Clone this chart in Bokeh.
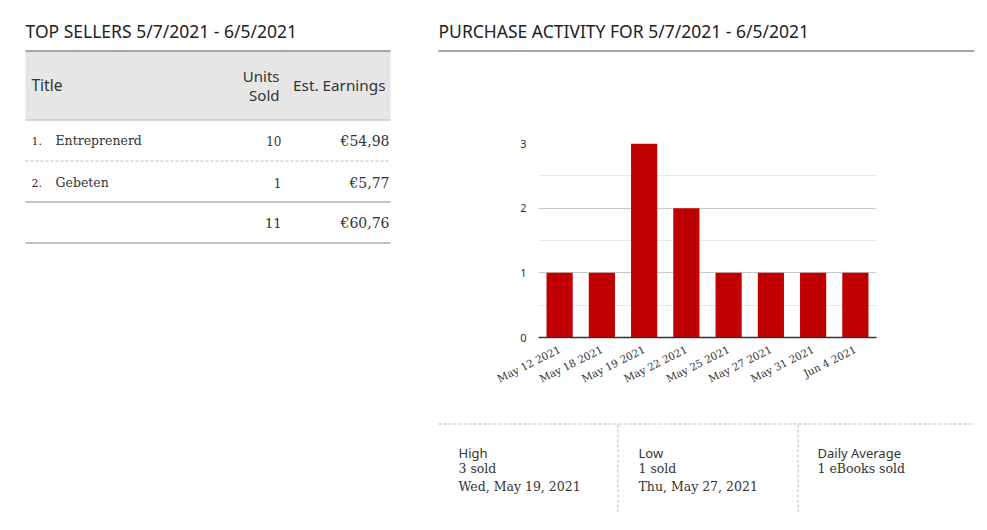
import math
from bokeh.plotting import figure
from bokeh.layouts import row, column
from bokeh.models import Range1d, FactorRange, FixedTicker
from bokeh.embed import file_html
from bokeh.resources import INLINE
from bokeh.core.properties import value

# ---------------- data ----------------
left_title = "TOP SELLERS 5/7/2021 - 6/5/2021"
right_title = "PURCHASE ACTIVITY FOR 5/7/2021 - 6/5/2021"
table_headers = ["Title", "Units", "Sold", "Est. Earnings"]
ranks = ["1.", "2."]
book_titles = ["Entreprenerd", "Gebeten"]
book_units = ["10", "1"]
book_earnings = ["€54,98", "€5,77"]
total_units = "11"
total_earnings = "€60,76"

dates = ["May 12 2021", "May 18 2021", "May 19 2021", "May 22 2021",
         "May 25 2021", "May 27 2021", "May 31 2021", "Jun 4 2021"]
sold = [1, 1, 3, 2, 1, 1, 1, 1]
y_ticks = [0, 1, 2, 3]
y_minor = [0.5, 1.5, 2.5]

stat_labels = ["High", "Low", "Daily Average"]
stat_lines = [["3 sold", "Wed, May 19, 2021"],
              ["1 sold", "Thu, May 27, 2021"],
              ["1 eBooks sold"]]

SANS = "Noto Sans"
SERIF = "DejaVu Serif"
TXT = "#333333"
BAR = "#c00000"


def canvas(w, h):
    p = figure(width=w, height=h, x_range=Range1d(0, w), y_range=Range1d(h, 0),
               output_backend="svg", toolbar_location=None, min_border=0,
               x_axis_location=None, y_axis_location=None)
    p.grid.visible = False
    p.outline_line_color = None
    p.frame_align = False
    return p


def txt(p, x, y, s, font, size, align="left", color=TXT):
    p.text(x=[x], y=[y], text=[s], text_font=value(font), text_font_size=value(size),
           text_align=align, text_baseline="middle", text_color=color)


# ---------------- left: table ----------------
L = canvas(430, 530)
txt(L, 25, 30, left_title, SANS, "17.5px", color="#222222")
L.quad(left=25, right=390, top=51, bottom=119, fill_color="#e6e6e6", line_color=None)
L.segment(x0=[25], y0=[50.5], x1=[390], y1=[50.5], line_color="#888888", line_width=1.5)
L.segment(x0=[25], y0=[119.5], x1=[390], y1=[119.5], line_color="#b0b0b0", line_width=1)
txt(L, 31, 84, table_headers[0], SANS, "15.5px")
txt(L, 279, 75, table_headers[1], SANS, "15px", align="right")
txt(L, 279, 94, table_headers[2], SANS, "15px", align="right")
txt(L, 385, 84, table_headers[3], SANS, "15.3px", align="right")

row_y = [140, 182]
for i in range(len(book_titles)):
    txt(L, 31, row_y[i], ranks[i], SERIF, "11px")
    txt(L, 55, row_y[i], book_titles[i], SERIF, "12.5px")
    txt(L, 281, row_y[i], book_units[i], SERIF, "12px", align="right")
    txt(L, 389, row_y[i], book_earnings[i], SERIF, "14px", align="right")
L.segment(x0=[25], y0=[160.5], x1=[390], y1=[160.5], line_color="#bbbbbb", line_width=1, line_dash="3 2")
L.segment(x0=[25], y0=[201.5], x1=[390], y1=[201.5], line_color="#888888", line_width=1)
txt(L, 281, 222, total_units, SERIF, "13px", align="right")
txt(L, 389, 222, total_earnings, SERIF, "14px", align="right")
L.segment(x0=[25], y0=[242.5], x1=[390], y1=[242.5], line_color="#888888", line_width=1)

# ---------------- right: header ----------------
H = canvas(557, 110)
txt(H, 8, 30, right_title, SANS, "17.5px", color="#222222")
H.segment(x0=[8], y0=[50.5], x1=[544], y1=[50.5], line_color="#888888", line_width=1.5)

# ---------------- right: chart ----------------
C = figure(width=557, height=300, x_range=FactorRange(*dates), y_range=Range1d(0, 3),
           output_backend="svg", toolbar_location=None,
           min_border_left=108, min_border_right=111, min_border_top=33, min_border_bottom=73)
C.frame_align = False
C.vbar(x=dates, top=sold, width=0.62, fill_color=BAR, line_color=None)
C.outline_line_color = None
C.xgrid.grid_line_color = None
C.yaxis.ticker = FixedTicker(ticks=y_ticks, minor_ticks=y_minor)
C.ygrid.grid_line_color = "#c8c8c8"
C.ygrid.minor_grid_line_color = "#e8e8e8"
C.yaxis.axis_line_color = None
C.yaxis.major_tick_line_color = None
C.yaxis.minor_tick_line_color = None
C.yaxis.major_label_standoff = 6
C.yaxis.major_label_text_font = SANS
C.yaxis.major_label_text_font_size = "11px"
C.yaxis.major_label_text_color = "#333333"
C.xaxis.axis_line_color = "#333333"
C.xaxis.axis_line_width = 1.5
C.xaxis.major_tick_line_color = None
C.xaxis.major_label_orientation = 0.46
C.xaxis.major_label_standoff = 5
C.xaxis.major_label_text_font = SERIF
C.xaxis.major_label_text_font_size = "10.4px"
C.xaxis.major_label_text_color = "#333333"

# ---------------- right: stats ----------------
S = canvas(557, 120)
S.segment(x0=[8], y0=[13.5], x1=[544], y1=[13.5], line_color="#bbbbbb", line_width=1, line_dash="3 2")
S.segment(x0=[187.5, 367.5], y0=[14, 14], x1=[187.5, 367.5], y1=[102, 102],
          line_color="#bbbbbb", line_width=1, line_dash="3 2")
col_x = [28, 208, 387]
for i in range(3):
    txt(S, col_x[i], 42, stat_labels[i], SANS, "13px")
    for j, s in enumerate(stat_lines[i]):
        txt(S, col_x[i], 58 + 18 * j, s, SERIF, "12.5px")

layout = row(L, column(H, C, S, spacing=0), spacing=0)
open("out.html", "w").write(file_html(layout, INLINE))
